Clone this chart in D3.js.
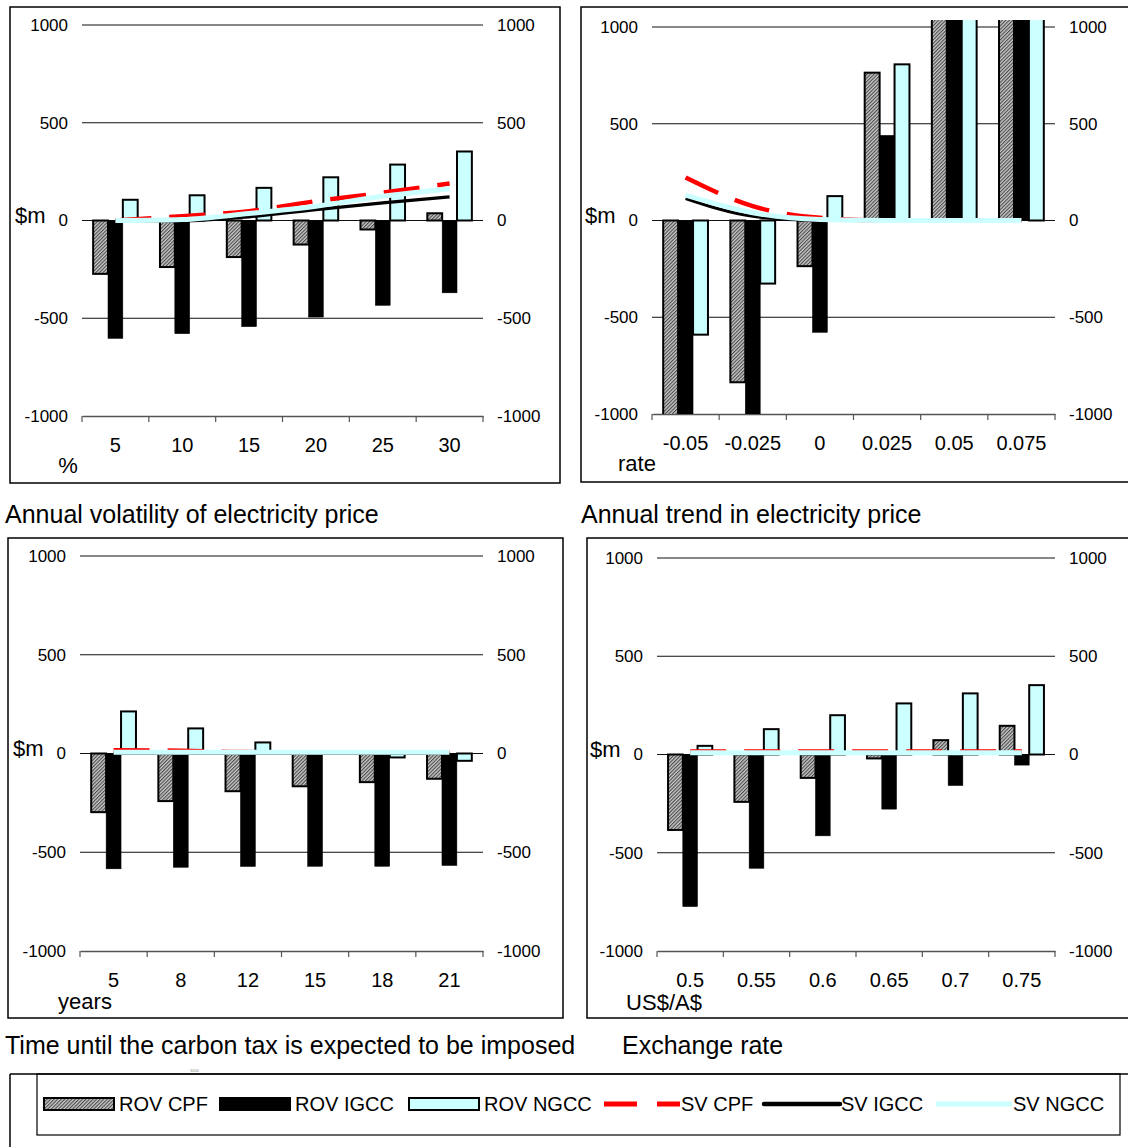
<!DOCTYPE html>
<html>
<head>
<meta charset="utf-8">
<script src="https://cdn.jsdelivr.net/npm/d3@7/dist/d3.min.js"></script>
<style>
  html, body { margin: 0; padding: 0; background: #fff; }
  svg { display: block; }
  text { font-family: Arial, "Liberation Sans", sans-serif; fill: #000; }
</style>
</head>
<body>
<svg id="chart" width="1128" height="1147"></svg>
<script>
// ---- Data: $m values for each sensitivity ----
const seriesNames = ["ROV CPF", "ROV IGCC", "ROV NGCC", "SV CPF", "SV IGCC", "SV NGCC"];
const tickValues = [1000, 500, 0, -500, -1000];

// Annual volatility of electricity price (%)
const volatilityCats = ["5", "10", "15", "20", "25", "30"];
const volRovCpf  = [-273, -238, -187, -123, -46, 37];
const volRovIgcc = [-603, -579, -543, -494, -434, -370];
const volRovNgcc = [106, 129, 167, 221, 286, 353];
const volSvCpf   = [0, 22, 48, 99, 142, 189];
const volSvIgcc  = [0, -2, 19, 56, 90, 121];
const volSvNgcc  = [0, 5, 36, 73, 124, 163];

// Annual trend in electricity price (rate)
const trendCats = ["-0.05", "-0.025", "0", "0.025", "0.05", "0.075"];
const trendRovCpf  = [-1250, -836, -236, 764, 1450, 1900];
const trendRovIgcc = [-1400, -1180, -578, 440, 1650, 2100];
const trendRovNgcc = [-590, -326, 126, 807, 1550, 2000];
const trendSvCpf   = [222, 74, 14, 0, 0, 0];
const trendSvIgcc  = [114, 22, 0, 0, 0, 0];
const trendSvNgcc  = [131, 40, 5, 0, 0, 0];

// Time until the carbon tax is expected to be imposed (years)
const carbonCats = ["5", "8", "12", "15", "18", "21"];
const carbonRovCpf  = [-297, -241, -191, -166, -145, -128];
const carbonRovIgcc = [-584, -576, -572, -571, -571, -567];
const carbonRovNgcc = [213, 127, 56, 3, -20, -37];
const carbonSvCpf   = [16, 14, 7, 6, 6, 6];
const carbonSvIgcc  = [0, 0, 0, 0, 0, 0];
const carbonSvNgcc  = [6, 6, 6, 6, 6, 6];

// Exchange rate (US$/A$)
const exchangeCats = ["0.5", "0.55", "0.6", "0.65", "0.7", "0.75"];
const exRovCpf  = [-384, -241, -119, -20, 73, 146];
const exRovIgcc = [-774, -579, -414, -278, -158, -54];
const exRovNgcc = [44, 129, 200, 260, 311, 353];
const exSvCpf   = [15, 15, 15, 15, 15, 15];
const exSvIgcc  = [8, 8, 8, 8, 8, 8];
const exSvNgcc  = [9, 9, 9, 9, 9, 9];

// ---- Styling ----
const BLACK = "#000";
const CYAN = "#ccffff";
const RED = "#ff0000";
const TICK_FONT = 17, CAT_FONT = 20, UNIT_FONT = 22, TITLE_FONT = 25, LEGEND_FONT = 20;

const svg = d3.select("#chart");
const defs = svg.append("defs");

// Fine diagonal hatch for the CPF bars
const pat = defs.append("pattern")
  .attr("id", "hatch")
  .attr("patternUnits", "userSpaceOnUse")
  .attr("width", 2.5).attr("height", 2.5)
  .attr("patternTransform", "rotate(-45)");
pat.append("rect").attr("width", 2.5).attr("height", 2.5).attr("fill", "#c8c8c8");
pat.append("rect").attr("width", 2.5).attr("height", 1.1).attr("fill", "#4a4a4a");

// ---- Panel layout ----
const panels = [
  {
    id: "vol", cats: volatilityCats,
    bars: [volRovCpf, volRovIgcc, volRovNgcc],
    lines: [volSvCpf, volSvIgcc, volSvNgcc],
    frame: [10, 7, 550, 476],
    plot: { left: 82, right: 483, top: 25, bottom: 416 },
    unit: "%", unitPos: [-14, 49],
    title: "Annual volatility of electricity price", titlePos: [5, 514]
  },
  {
    id: "trend", cats: trendCats,
    bars: [trendRovCpf, trendRovIgcc, trendRovNgcc],
    lines: [trendSvCpf, trendSvIgcc, trendSvNgcc],
    frame: [581, 7, 560, 475],
    plot: { left: 652, right: 1055, top: 27, bottom: 414 },
    unit: "rate", unitPos: [-15, 49],
    title: "Annual trend in electricity price", titlePos: [581, 514]
  },
  {
    id: "carbon", cats: carbonCats,
    bars: [carbonRovCpf, carbonRovIgcc, carbonRovNgcc],
    lines: [carbonSvCpf, carbonSvIgcc, carbonSvNgcc],
    frame: [8, 538, 555, 480],
    plot: { left: 80, right: 483, top: 556, bottom: 951 },
    unit: "years", unitPos: [5, 50],
    title: "Time until the carbon tax is expected to be imposed", titlePos: [5, 1045]
  },
  {
    id: "exchange", cats: exchangeCats,
    bars: [exRovCpf, exRovIgcc, exRovNgcc],
    lines: [exSvCpf, exSvIgcc, exSvNgcc],
    frame: [587, 538, 560, 480],
    plot: { left: 657, right: 1055, top: 558, bottom: 951 },
    unit: "US$/A$", unitPos: [7, 51],
    title: "Exchange rate", titlePos: [622, 1045]
  }
];

const barFills = ["url(#hatch)", BLACK, CYAN];
const lineStyles = [
  { color: RED, width: 4.5, dash: "36,18" },
  { color: BLACK, width: 3.2, dash: null },
  { color: CYAN, width: 5, dash: null }
];

panels.forEach(p => {
  const g = svg.append("g").attr("class", "panel-" + p.id);
  const { left, right, top, bottom } = p.plot;

  // frame
  g.append("rect")
    .attr("x", p.frame[0]).attr("y", p.frame[1])
    .attr("width", p.frame[2]).attr("height", p.frame[3])
    .attr("fill", "none").attr("stroke", BLACK).attr("stroke-width", 1.5);

  const x = d3.scaleBand().domain(p.cats).range([left, right]).padding(0);
  const x1 = d3.scaleBand().domain([0, 1, 2]).range([0, x.bandwidth()])
    .paddingInner(0).paddingOuter(0.75);
  const y = d3.scaleLinear().domain([-1000, 1000]).range([bottom, top]);

  // gridlines (1000, 500, 0, -500)
  g.append("g").selectAll("line")
    .data(tickValues.filter(v => v > -1000))
    .join("line")
    .attr("x1", left).attr("x2", right)
    .attr("y1", d => y(d)).attr("y2", d => y(d))
    .attr("stroke", "#111").attr("stroke-width", 1);

  // category axis along the bottom
  const xAxis = d3.axisBottom(x).tickSize(0).tickFormat("");
  const axG = g.append("g").attr("transform", `translate(0,${bottom})`).call(xAxis);
  axG.select(".domain").attr("stroke", "#555").attr("stroke-width", 1.6);
  const boundaries = p.cats.map(c => x(c)).concat([right]);
  axG.selectAll(".bound").data(boundaries).join("line")
    .attr("class", "bound")
    .attr("x1", d => d).attr("x2", d => d)
    .attr("y1", 0).attr("y2", 6)
    .attr("stroke", "#555").attr("stroke-width", 1.2);

  g.append("g").selectAll("text").data(p.cats).join("text")
    .attr("x", d => x(d) + x.bandwidth() / 2)
    .attr("y", bottom + 29)
    .attr("dy", "0.35em")
    .attr("text-anchor", "middle")
    .attr("font-size", CAT_FONT)
    .text(d => d);

  // value labels on both sides
  g.append("g").selectAll("text").data(tickValues).join("text")
    .attr("x", left - 14).attr("y", d => y(d)).attr("dy", "0.35em")
    .attr("text-anchor", "end").attr("font-size", TICK_FONT)
    .text(d => d);
  g.append("g").selectAll("text").data(tickValues).join("text")
    .attr("x", right + 14).attr("y", d => y(d)).attr("dy", "0.35em")
    .attr("text-anchor", "start").attr("font-size", TICK_FONT)
    .text(d => d);

  g.append("text")
    .attr("x", left - 67).attr("y", y(0) - 5).attr("dy", "0.35em")
    .attr("font-size", UNIT_FONT)
    .text("$m");

  g.append("text")
    .attr("x", left + p.unitPos[0]).attr("y", bottom + p.unitPos[1]).attr("dy", "0.35em")
    .attr("text-anchor", "middle")
    .attr("font-size", UNIT_FONT)
    .text(p.unit);

  // bars, clipped to the plot area
  const clipId = "clip-" + p.id;
  defs.append("clipPath").attr("id", clipId)
    .append("rect")
    .attr("x", left).attr("y", top - 7)
    .attr("width", right - left).attr("height", bottom - top + 7);

  const barG = g.append("g").attr("clip-path", `url(#${clipId})`);
  p.bars.forEach((vals, si) => {
    barG.append("g").selectAll("rect")
      .data(vals.map((v, i) => ({ cat: p.cats[i], v })))
      .join("rect")
      .attr("x", d => x(d.cat) + x1(si))
      .attr("width", x1.bandwidth())
      .attr("y", d => y(Math.max(0, d.v)))
      .attr("height", d => Math.abs(y(d.v) - y(0)))
      .attr("fill", barFills[si])
      .attr("stroke", BLACK)
      .attr("stroke-width", si === 1 ? 0.5 : 2);
  });

  // SV lines at category centres
  const line = d3.line()
    .x(d => x(d.cat) + x.bandwidth() / 2)
    .y(d => y(d.v))
    .curve(d3.curveMonotoneX);
  p.lines.forEach((vals, si) => {
    const st = lineStyles[si];
    g.append("path")
      .datum(vals.map((v, i) => ({ cat: p.cats[i], v })))
      .attr("d", line)
      .attr("fill", "none")
      .attr("stroke", st.color)
      .attr("stroke-width", st.width)
      .attr("stroke-dasharray", st.dash)
      .attr("stroke-linecap", "butt");
  });

  // caption under the panel
  svg.append("text")
    .attr("x", p.titlePos[0]).attr("y", p.titlePos[1]).attr("dy", "0.35em")
    .attr("font-size", TITLE_FONT)
    .text(p.title);
});

// ---- Legend ----
const lg = svg.append("g").attr("class", "legend");
lg.append("line").attr("x1", 10).attr("x2", 1128).attr("y1", 1074).attr("y2", 1074)
  .attr("stroke", BLACK).attr("stroke-width", 1.5);
lg.append("line").attr("x1", 10).attr("x2", 10).attr("y1", 1074).attr("y2", 1147)
  .attr("stroke", BLACK).attr("stroke-width", 1.5);
lg.append("rect").attr("x", 37).attr("y", 1074).attr("width", 1083).attr("height", 61)
  .attr("fill", "none").attr("stroke", BLACK).attr("stroke-width", 1.2);
lg.append("text").attr("x", 190).attr("y", 1072).attr("font-size", 4)
  .style("fill", "#888").text("3000");

const legendX = [44, 220, 409, 604, 764, 936];
const legendY = 1104;
seriesNames.forEach((name, i) => {
  const lx = legendX[i];
  if (i < 3) {
    lg.append("rect")
      .attr("x", lx).attr("y", legendY - 6).attr("width", 70).attr("height", 12)
      .attr("fill", barFills[i]).attr("stroke", BLACK).attr("stroke-width", 2);
  } else {
    const st = lineStyles[i - 3];
    lg.append("line")
      .attr("x1", lx).attr("x2", lx + 76).attr("y1", legendY).attr("y2", legendY)
      .attr("stroke", st.color)
      .attr("stroke-width", i === 4 ? 4.5 : 5)
      .attr("stroke-dasharray", st.dash ? "33,20" : null)
      .attr("stroke-linecap", i === 4 ? "round" : "butt");
  }
  lg.append("text")
    .attr("x", lx + (i < 3 ? 75 : 77)).attr("y", legendY).attr("dy", "0.35em")
    .attr("font-size", LEGEND_FONT)
    .text(name);
});
</script>
</body>
</html>
